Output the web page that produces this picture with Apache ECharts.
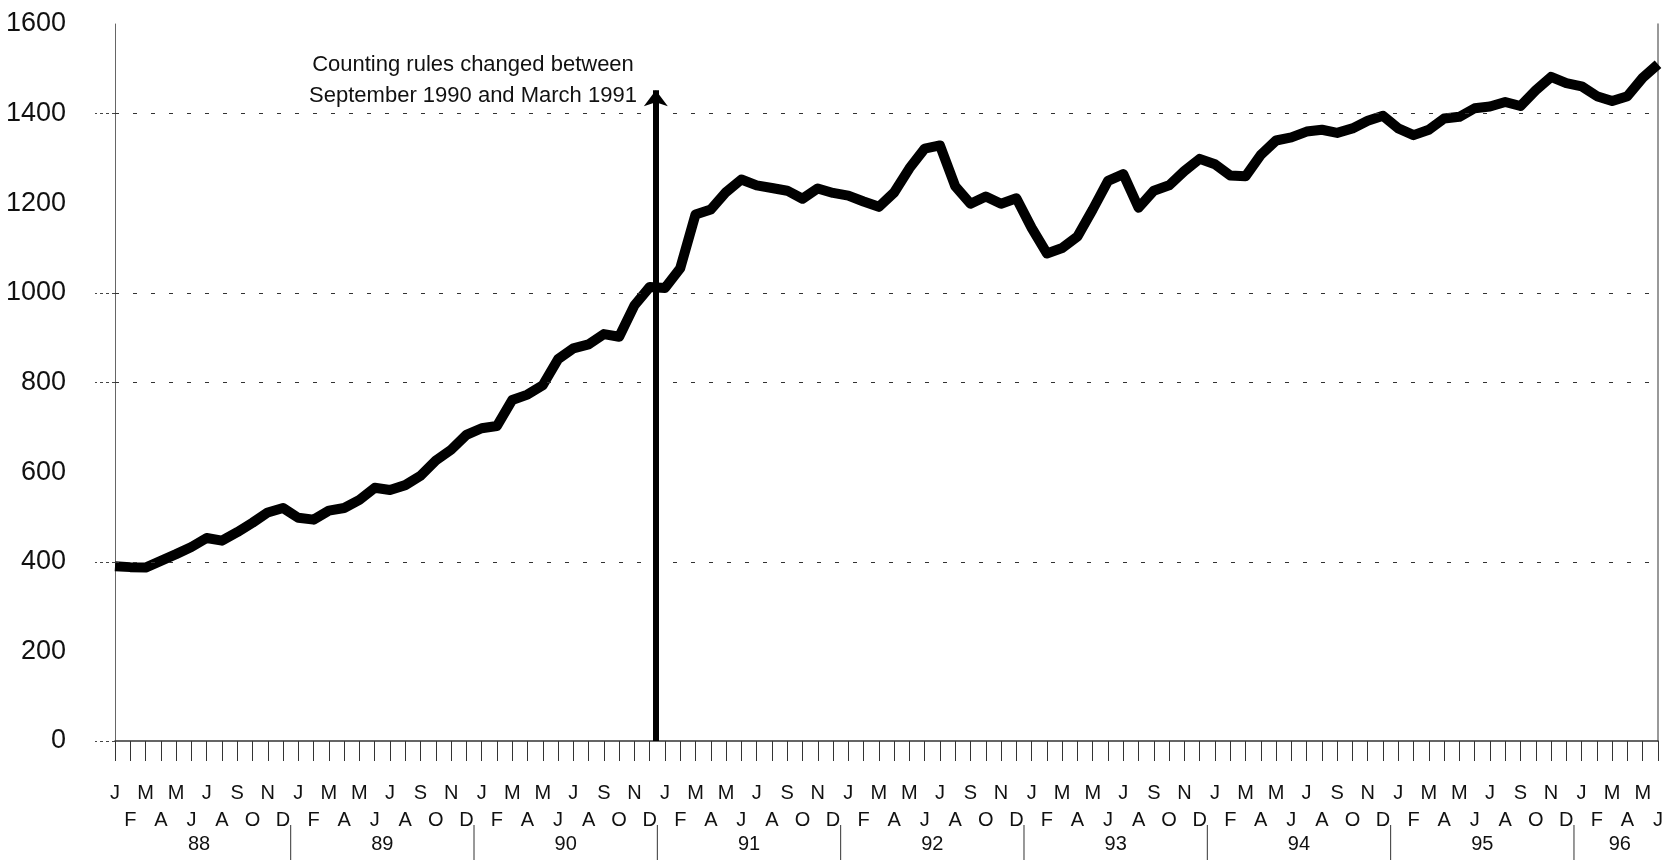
<!DOCTYPE html>
<html>
<head>
<meta charset="utf-8">
<script src="https://cdn.jsdelivr.net/npm/echarts@6/dist/echarts.min.js"></script>
<style>
  html, body { margin: 0; padding: 0; background: #fff; }
  #chart { width: 1675px; height: 860px; }
</style>
</head>
<body>
<div id="chart"></div>
<script>
// monthly values, Jan 1988 .. Jun 1996
const values = [
  390, 388, 387, 402, 417, 433, 453, 447, 466, 487, 510, 520,   // 88
  498, 494, 514, 520, 538, 565, 560, 571, 592, 626, 650, 683,   // 89
  698, 703, 761, 773, 794, 852, 876, 885, 908, 902, 972, 1013,  // 90
  1011, 1055, 1175, 1186, 1225, 1253, 1240, 1234, 1228, 1210, 1233, 1223, // 91
  1217, 1204, 1192, 1224, 1278, 1322, 1329, 1238, 1199, 1215, 1199, 1211, // 92
  1145, 1088, 1100, 1126, 1186, 1250, 1265, 1190, 1228, 1240, 1272, 1299, // 93
  1287, 1262, 1260, 1308, 1340, 1347, 1360, 1364, 1357, 1367, 1384, 1395, // 94
  1367, 1352, 1364, 1389, 1393, 1412, 1416, 1426, 1417, 1452, 1482, 1468, // 95
  1461, 1439, 1428, 1439, 1480, 1510                                      // 96
];
const monthLetters = ['J', 'F', 'M', 'A', 'M', 'J', 'J', 'A', 'S', 'O', 'N', 'D'];
const yearLabels = ['88', '89', '90', '91', '92', '93', '94', '95', '96'];
const yearCenters = [5.5, 17.5, 29.5, 41.5, 53.5, 65.5, 77.5, 89.5, 98.5];
const yearSeparators = [11.5, 23.5, 35.5, 47.5, 59.5, 71.5, 83.5, 95.5];
const gridValues = [400, 800, 1000, 1400];
const yTickValues = [0, 400, 800, 1000, 1400];

// counting rules change marker
const ruleChangeMonth = 35.4;
const arrowTop = 1452;
const noteText = 'Counting rules changed between\nSeptember 1990 and March 1991';

const lastMonth = values.length - 1;
const font = 'Liberation Sans';

const chart = echarts.init(document.getElementById('chart'));

chart.setOption({
  animation: false,
  backgroundColor: '#fff',
  grid: { left: 115, right: 17, top: 24, bottom: 119 },
  xAxis: {
    type: 'value',
    min: 0,
    max: lastMonth,
    interval: 1,
    position: 'bottom',
    axisLine: { show: true, onZero: false, lineStyle: { color: '#333', width: 1.5 } },
    axisTick: { show: true, length: 20, lineStyle: { color: '#333', width: 1 } },
    splitLine: { show: false },
    axisLabel: {
      margin: 39,
      fontSize: 20,
      lineHeight: 27,
      fontFamily: font,
      color: '#111',
      formatter: (v) => {
        const letter = monthLetters[v % 12];
        return v % 2 === 0 ? letter : '\n' + letter;
      }
    }
  },
  yAxis: [
    {
      type: 'value',
      min: 0,
      max: 1600,
      interval: 200,
      axisLine: { show: true, lineStyle: { color: '#666', width: 1 } },
      axisTick: {
        show: true,
        length: 20,
        customValues: yTickValues,
        lineStyle: { color: '#444', width: 1, type: [3, 3] }
      },
      splitLine: { show: false },
      axisLabel: {
        margin: 49,
        fontSize: 27,
        fontFamily: font,
        color: '#111',
        formatter: (v) => String(v)
      }
    },
    {
      type: 'value',
      min: 0,
      max: 1600,
      position: 'right',
      axisLine: { show: true, lineStyle: { color: '#777', width: 1.5 } },
      axisTick: { show: false },
      axisLabel: { show: false },
      splitLine: { show: false }
    }
  ],
  graphic: [
    {
      type: 'text',
      x: 473,
      y: 80,
      style: {
        text: noteText,
        align: 'center',
        verticalAlign: 'middle',
        fontSize: 22,
        fontFamily: font,
        lineHeight: 31,
        fill: '#111'
      }
    }
  ],
  series: [
    {
      type: 'line',
      data: values.map((v, i) => [i, v]),
      symbol: 'none',
      lineStyle: { color: '#000', width: 10, join: 'round' },
      z: 3,
      markLine: {
        silent: true,
        symbol: 'none',
        label: { show: false },
        lineStyle: { color: '#333', width: 1, type: [4, 14] },
        data: [
          ...gridValues.map((v) => ({ yAxis: v })),
          [
            {
              coord: [ruleChangeMonth, 0],
              symbol: 'none',
              lineStyle: { color: '#000', width: 6, type: 'solid' }
            },
            {
              coord: [ruleChangeMonth, arrowTop],
              symbol: 'arrow',
              symbolSize: [18, 16]
            }
          ]
        ]
      }
    },
    {
      // year row under the month letters, with separators between years
      type: 'custom',
      clip: false,
      silent: true,
      data: yearLabels.map((lab, k) => [yearCenters[k], 0, k]),
      renderItem: (params, api) => {
        const k = api.value(2);
        const base = api.coord([api.value(0), 0]);
        const children = [{
          type: 'text',
          x: base[0],
          y: base[1] + 103,
          style: {
            text: yearLabels[k],
            align: 'center',
            verticalAlign: 'middle',
            fontSize: 20,
            fontFamily: font,
            fill: '#111'
          }
        }];
        if (k < yearSeparators.length) {
          const sx = api.coord([yearSeparators[k], 0])[0];
          children.push({
            type: 'line',
            shape: { x1: sx, y1: base[1] + 84, x2: sx, y2: base[1] + 119 },
            style: { stroke: '#333', lineWidth: 1 }
          });
        }
        return { type: 'group', children };
      }
    }
  ]
});
</script>
</body>
</html>
